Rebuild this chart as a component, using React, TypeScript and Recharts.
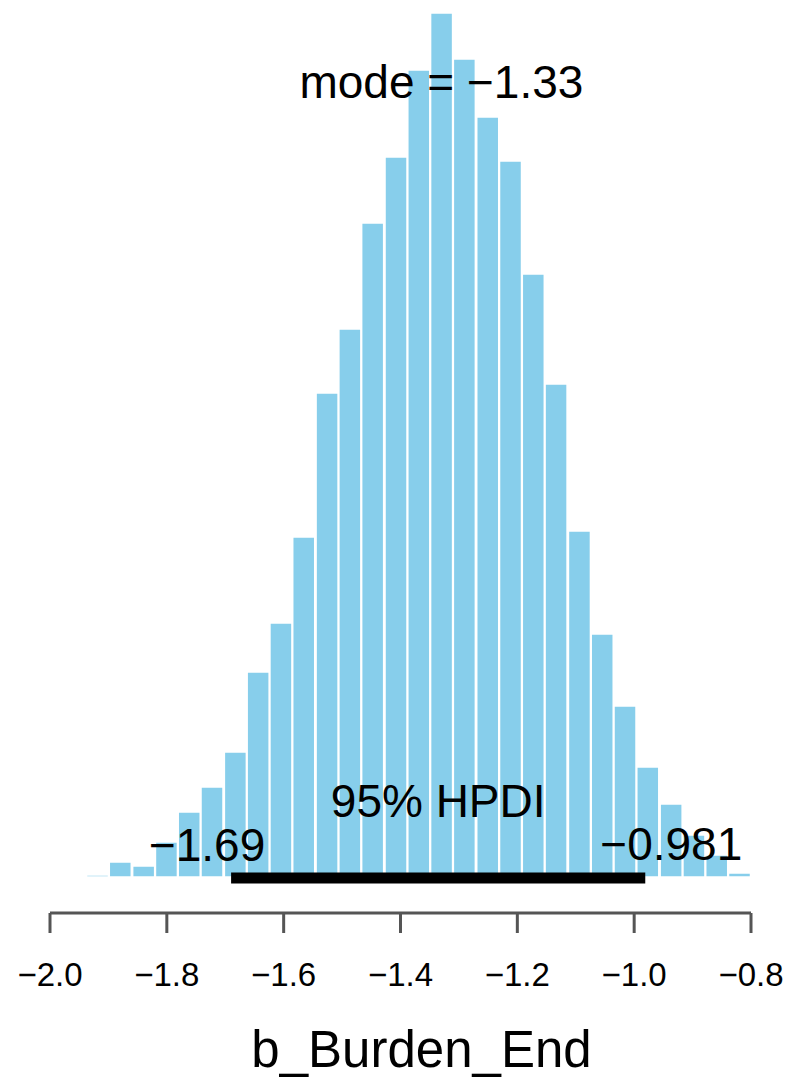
import React from 'react';
import { ComposedChart, Bar, XAxis, YAxis, ReferenceLine } from 'recharts';

// histogram bins (mid points) and heights
const binMids = [
  -1.918, -1.879, -1.839, -1.8, -1.761, -1.722, -1.682, -1.643, -1.604, -1.565,
  -1.525, -1.486, -1.447, -1.407, -1.368, -1.329, -1.29, -1.25, -1.211, -1.172,
  -1.133, -1.093, -1.054, -1.015, -0.976, -0.936, -0.897, -0.858, -0.819,
];
const binCounts = [
  2, 15, 11, 35, 65, 90, 125, 205, 254, 340,
  484, 548, 654, 720, 807, 864, 818, 760, 716, 603,
  493, 346, 243, 171, 110, 73, 42, 22, 4,
];
const xTicks = [-2.0, -1.8, -1.6, -1.4, -1.2, -1.0, -0.8];

const modeValue = -1.33;
const hdiLow = -1.69;
const hdiHigh = -0.981;
const xLabel = 'b_Burden_End';

const data = binMids.map((x, i) => ({ x, count: binCounts[i] }));

const FONT = '"Liberation Sans", Arial, Helvetica, sans-serif';
const fmt = (v: number, d: number) => v.toFixed(d).replace('-', '\u2212');

// label placed at the reference element's x, at a fixed baseline
const TextAt = ({ viewBox, baseY, shiftX = 0, txt, size = 46 }: any) => (
  <text
    x={viewBox.x + (viewBox.width || 0) / 2 + shiftX}
    y={baseY}
    textAnchor="middle"
    fontSize={size}
    fontFamily={FONT}
    fill="#000"
  >
    {txt}
  </text>
);

export default function App() {
  return (
    <div style={{ position: 'absolute', left: 0, top: 0, background: '#fff' }}>
      <ComposedChart
        width={788}
        height={1081}
        data={data}
        margin={{ top: 13, right: 37, bottom: 8, left: 50 }}
      >
        <XAxis
          dataKey="x"
          type="number"
          domain={[-2.0, -0.8]}
          ticks={xTicks}
          allowDataOverflow
          height={160}
          tickSize={20}
          tickMargin={30}
          axisLine={{ stroke: '#555', strokeWidth: 3 }}
          tickLine={{ stroke: '#555', strokeWidth: 3 }}
          tick={{ fill: '#000', fontSize: 33, fontFamily: FONT }}
          tickFormatter={(v: number) => fmt(v, 1)}
          label={<TextAt baseY={1067} shiftX={21} txt={xLabel} size={51} />}
        />
        <YAxis hide domain={[-36, 864]} allowDataOverflow />
        <Bar
          dataKey="count"
          fill="#87CEEB"
          stroke="#fff"
          strokeWidth={1.5}
          barSize={22}
          isAnimationActive={false}
        />
        <ReferenceLine
          segment={[{ x: hdiLow, y: -1 }, { x: hdiHigh, y: -1 }]}
          stroke="#000"
          strokeWidth={11}
          label={<TextAt baseY={817} txt="95% HPDI" />}
        />
        <ReferenceLine
          x={modeValue}
          stroke="none"
          label={<TextAt baseY={98} txt={`mode = ${fmt(modeValue, 2)}`} />}
        />
        <ReferenceLine
          x={hdiLow}
          stroke="none"
          label={<TextAt baseY={861} shiftX={-24} txt={fmt(hdiLow, 2)} />}
        />
        <ReferenceLine
          x={hdiHigh}
          stroke="none"
          label={<TextAt baseY={860} shiftX={26} txt={fmt(hdiHigh, 3)} />}
        />
      </ComposedChart>
    </div>
  );
}
